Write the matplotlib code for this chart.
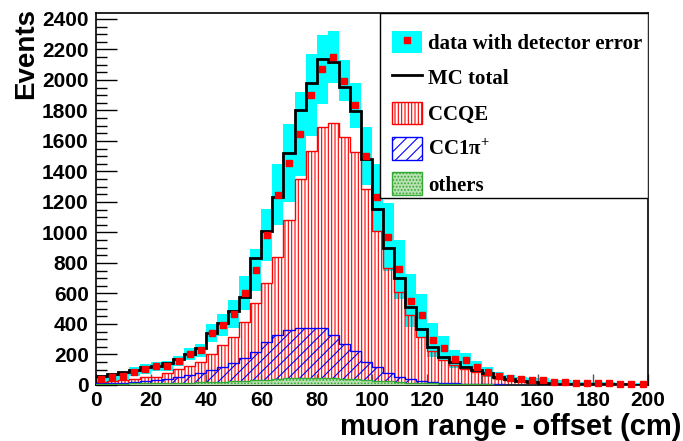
import numpy as np
import matplotlib
matplotlib.use("Agg")
import matplotlib.pyplot as plt
from matplotlib.patches import Patch, Rectangle
from matplotlib.lines import Line2D
from matplotlib.ticker import MultipleLocator
from matplotlib.font_manager import FontProperties

# 50 bins of 4 cm, 0..200
edges = np.arange(0, 201, 4)

data = [40, 50, 59, 87, 105, 122, 125, 157, 205, 227,
        339, 393, 464, 603, 754, 986, 1246, 1456, 1644, 1900,
        2070, 2153, 1996, 1834, 1502, 1230, 968, 759, 553, 457,
        295, 240, 169, 161, 117, 85, 59, 44, 37, 31,
        31, 20, 20, 12, 12, 14, 12, 7, 5, 8]
err = [25, 25, 25, 28, 30, 30, 30, 35, 40, 45,
       60, 75, 90, 110, 140, 170, 200, 255, 275, 270,
       225, 170, 137, 148, 190, 220, 223, 192, 175, 140,
       110, 80, 60, 50, 40, 30, 25, 20, 18, 15,
       12, 10, 10, 8, 8, 6, 6, 6, 6, 6]
mc_total = [60, 70, 83, 100, 115, 125, 142, 172, 200, 245,
            339, 405, 485, 580, 830, 1010, 1230, 1519, 1803, 1982,
            2136, 2118, 1956, 1799, 1480, 1152, 896, 700, 514, 367,
            251, 182, 151, 120, 98, 77, 55, 37, 28, 20,
            11, 8, 7, 6, 5, 5, 4, 4, 3, 3]
ccqe = [22, 26, 34, 40, 50, 55, 80, 102, 124, 150,
        200, 260, 317, 411, 535, 671, 841, 1082, 1349, 1534,
        1694, 1716, 1628, 1526, 1283, 1008, 770, 610, 459, 317,
        225, 165, 133, 105, 85, 65, 48, 32, 24, 17,
        9, 6, 5, 4, 4, 4, 3, 3, 2, 2]
cc1pi = [12, 14, 16, 20, 25, 30, 37, 50, 65, 80,
         98, 115, 142, 175, 219, 284, 328, 361, 372, 374,
         372, 330, 269, 222, 153, 118, 77, 50, 40, 28,
         20, 15, 10, 8, 6, 5, 4, 3, 2, 2,
         1, 1, 1, 1, 1, 1, 1, 0, 0, 0]
others = [8, 8, 9, 10, 10, 11, 12, 13, 15, 17,
          20, 22, 25, 28, 32, 36, 40, 43, 45, 46,
          46, 44, 42, 38, 35, 28, 24, 18, 15, 12,
          10, 8, 7, 6, 5, 4, 3, 3, 2, 2,
          2, 1, 1, 1, 1, 1, 1, 1, 1, 1]

data = np.array(data, float)
err = np.array(err, float)
centers = 0.5 * (edges[:-1] + edges[1:])

plt.rcParams['hatch.linewidth'] = 0.8
plt.rcParams['mathtext.fontset'] = 'custom'
plt.rcParams['mathtext.rm'] = 'Liberation Serif:bold'

fig = plt.figure(figsize=(6.83, 4.41), dpi=100)
ax = fig.add_axes([0.1401, 0.127, 0.8087, 0.8429])

# detector error band
ax.bar(centers, 2 * err, bottom=data - err, width=4, color='#00ffff', linewidth=0, zorder=1)

ax.stairs(ccqe, edges, fill=True, facecolor='none', edgecolor='red', hatch='|||||', linewidth=1, zorder=2)
ax.stairs(cc1pi, edges, fill=True, facecolor='none', edgecolor='blue', hatch='///', linewidth=1, zorder=3)
ax.stairs(others, edges, fill=True, facecolor='#b8e0b0', edgecolor='#33aa33', hatch='.....', linewidth=1, zorder=4)
ax.stairs(mc_total, edges, baseline=None, color='black', linewidth=2, zorder=5)
ax.plot(centers, data, 's', color='red', markersize=5, zorder=6, clip_on=False)

ax.set_xlim(0, 200)
ax.set_ylim(0, 2437)
ax.xaxis.set_major_locator(MultipleLocator(20))
ax.yaxis.set_major_locator(MultipleLocator(200))
ax.yaxis.set_minor_locator(MultipleLocator(50))
ax.tick_params(which='both', direction='in', top=False, right=False)
ax.tick_params(axis='y', which='major', length=15, width=1, pad=5)
ax.tick_params(axis='y', which='minor', length=8, width=1)
ax.tick_params(axis='x', which='major', length=8, width=1, color='#555555', pad=4)
for lab in ax.get_xticklabels() + ax.get_yticklabels():
    lab.set_fontfamily('Liberation Sans')
    lab.set_fontweight('bold')
    lab.set_fontsize(15)
for sp in ax.spines.values():
    sp.set_linewidth(1.2)

fig.text(26 / 683, 1 - 8 / 441, 'Events', rotation=90, ha='center', va='top',
         fontfamily='Liberation Sans', fontweight='bold', fontsize=20)
fig.text(682 / 683, 0.0, 'muon range - offset (cm)', ha='right', va='bottom',
         fontfamily='Liberation Sans', fontweight='bold', fontsize=21)

# legend box (frame drawn separately so the padding can be uneven like ROOT's)
ax.add_patch(Rectangle((0.5148, 0.503), 1 - 0.5148, 1 - 0.503, transform=ax.transAxes,
                       facecolor='white', edgecolor='black', linewidth=1, zorder=9))
handles = [
    (Patch(facecolor='#00ffff', edgecolor='none'),
     Line2D([], [], marker='s', color='red', linestyle='none', markersize=4)),
    Line2D([], [], color='black', linewidth=2),
    Patch(facecolor='none', edgecolor='red', hatch='|||||'),
    Patch(facecolor='none', edgecolor='blue', hatch='///'),
    Patch(facecolor='#b8e0b0', edgecolor='#33aa33', hatch='.....'),
]
labels = ['data with detector error', 'MC total', 'CCQE', r'CC1π$^{+}$', 'others']
leg = ax.legend(handles, labels, loc='upper left', bbox_to_anchor=(0.5365, 0.953),
                borderaxespad=0, frameon=False,
                prop=FontProperties(family='Liberation Serif', weight='bold', size=15),
                handlelength=1.45, handleheight=1.3, labelspacing=0.58,
                borderpad=0, handletextpad=0.3)
leg.set_zorder(10)

fig.savefig('out.png', dpi=100)
